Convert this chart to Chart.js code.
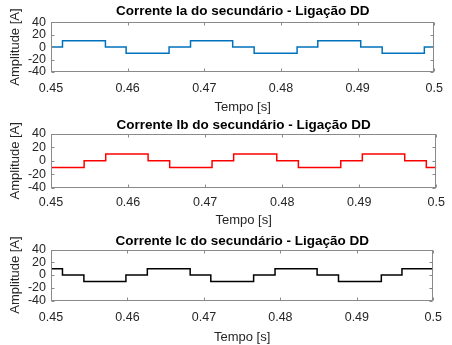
<!DOCTYPE html>
<html>
<head>
<meta charset="utf-8">
<script src="https://cdn.jsdelivr.net/npm/chart.js@4.4.1/dist/chart.umd.min.js"></script>
<style>
  html, body { margin: 0; padding: 0; background: #fff; }
  .painel { position: absolute; left: 0; width: 452px; height: 115px; }
</style>
</head>
<body>
<div class="painel" style="top:0"><canvas id="gIa" width="452" height="115"></canvas></div>
<div class="painel" style="top:115px"><canvas id="gIb" width="452" height="115"></canvas></div>
<div class="painel" style="top:230px"><canvas id="gIc" width="452" height="115"></canvas></div>
<script>
// instantes de comutacao [s]
const tempo = [0.45, 0.4515, 0.4543, 0.4571, 0.4598, 0.4626, 0.4654, 0.4682, 0.4709, 0.4737,
               0.4765, 0.4793, 0.4821, 0.4848, 0.4876, 0.4904, 0.4932, 0.4959, 0.4987, 0.5];
// nivel da corrente [A] a partir de cada instante
const correnteIa = [0, 10, 10, 0, -10, -10, 0, 10, 10, 0, -10, -10, 0, 10, 10, 0, -10, -10, 0, 0];
const correnteIb = [-10, -10, 0, 10, 10, 0, -10, -10, 0, 10, 10, 0, -10, -10, 0, 10, 10, 0, -10, -10];
const correnteIc = [10, 0, -10, -10, 0, 10, 10, 0, -10, -10, 0, 10, 10, 0, -10, -10, 0, 10, 10, 10];
const ticksX = [0.45, 0.46, 0.47, 0.48, 0.49, 0.5];
const ticksY = [-40, -20, 0, 20, 40];

Chart.defaults.font.family = "'Liberation Sans', Arial, Helvetica, sans-serif";
Chart.defaults.color = '#262626';

// caixa com marcas para dentro (estilo MATLAB)
const caixa = {
    id: 'caixa',
    afterDatasetsDraw(chart) {
        const ctx = chart.ctx;
        const a = chart.chartArea;
        const l = Math.round(a.left) + 0.5, r = Math.round(a.right) - 0.5;
        const t = Math.round(a.top) + 0.5, b = Math.round(a.bottom) - 0.5;
        ctx.save();
        ctx.strokeStyle = '#8a8a8a';
        ctx.lineWidth = 1;
        ctx.strokeRect(l, t, r - l, b - t);
        ctx.beginPath();
        chart.scales.x.ticks.forEach(tk => {
            const x = Math.round(chart.scales.x.getPixelForValue(tk.value)) + 0.5;
            ctx.moveTo(x, b); ctx.lineTo(x, b - 3);
            ctx.moveTo(x, t); ctx.lineTo(x, t + 3);
        });
        chart.scales.y.ticks.forEach(tk => {
            const y = Math.round(chart.scales.y.getPixelForValue(tk.value)) + 0.5;
            ctx.moveTo(l, y); ctx.lineTo(l + 3, y);
            ctx.moveTo(r, y); ctx.lineTo(r - 3, y);
        });
        ctx.stroke();
        ctx.restore();
    }
};

function grafico(id, titulo, valores, cor, lay) {
    const pontos = tempo.map((t, i) => ({x: t, y: valores[i]}));
    return new Chart(document.getElementById(id), {
        type: 'line',
        data: {
            datasets: [{
                data: pontos,
                borderColor: cor,
                borderWidth: 1.5,
                pointRadius: 0,
                stepped: true,
                fill: false
            }]
        },
        options: {
            responsive: false,
            animation: false,
            layout: { padding: { left: 0, right: 9, top: 0, bottom: 0 } },
            plugins: {
                legend: { display: false },
                tooltip: { enabled: false },
                title: {
                    display: true,
                    fullSize: false,
                    text: titulo,
                    color: '#000',
                    font: { size: 13.5, weight: 'bold', lineHeight: 1.2 },
                    padding: { top: lay.tTop, bottom: lay.tBottom }
                }
            },
            scales: {
                x: {
                    type: 'linear',
                    min: 0.45,
                    max: 0.5,
                    afterBuildTicks: s => { s.ticks = ticksX.map(v => ({value: v})); },
                    afterFit: s => { s.height = lay.xHeight; },
                    grid: { display: false, drawTicks: false },
                    border: { display: false },
                    ticks: {
                        padding: lay.tickPad,
                        font: { size: 12.5 },
                        maxRotation: 0,
                        autoSkip: false,
                        callback: v => String(Number(v.toFixed(2)))
                    },
                    title: {
                        display: true,
                        text: 'Tempo [s]',
                        font: { size: 13 },
                        padding: { top: 0, bottom: lay.xTitlePad }
                    }
                },
                y: {
                    min: -40,
                    max: 40,
                    afterBuildTicks: s => { s.ticks = ticksY.map(v => ({value: v})); },
                    afterFit: s => { s.width = 51; },
                    grid: { display: false, drawTicks: false },
                    border: { display: false },
                    ticks: { padding: 5, font: { size: 12.5 }, autoSkip: false },
                    title: {
                        display: true,
                        text: 'Amplitude [A]',
                        font: { size: 13 },
                        padding: { top: 8, bottom: 0 }
                    }
                }
            }
        },
        plugins: [caixa]
    });
}

grafico('gIa', 'Corrente Ia do secundário - Ligação DD', correnteIa, '#0072BD',
    {tTop: 2.9, tBottom: 3, xHeight: 43, tickPad: 9, xTitlePad: 0});
grafico('gIb', 'Corrente Ib do secundário - Ligação DD', correnteIb, '#FF0000',
    {tTop: 2.6, tBottom: -0.3, xHeight: 42, tickPad: 7, xTitlePad: 2});
grafico('gIc', 'Corrente Ic do secundário - Ligação DD', correnteIc, '#000000',
    {tTop: 2.9, tBottom: 0.4, xHeight: 44.5, tickPad: 10, xTitlePad: 0});
</script>
</body>
</html>
